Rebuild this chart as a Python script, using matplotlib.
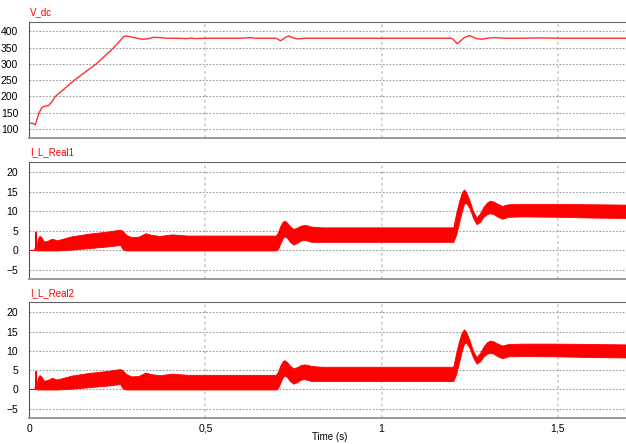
import numpy as np
import matplotlib
matplotlib.use("Agg")
import matplotlib.pyplot as plt
from matplotlib.ticker import FuncFormatter

plt.rcParams['font.family'] = ['Liberation Sans', 'DejaVu Sans']

# V_dc (V) vs time (s)
vdc_t = [0, 0.01, 0.017, 0.028, 0.036, 0.045, 0.055, 0.065, 0.074, 0.128, 0.19, 0.24,
         0.268, 0.275, 0.29, 0.306, 0.32, 0.335, 0.353, 0.37, 0.39, 0.42, 0.45, 0.46, 0.47,
         0.5, 0.6, 0.63, 0.64, 0.7, 0.705, 0.713, 0.725, 0.736, 0.75, 0.76, 0.78, 0.80,
         0.9, 1.0, 1.1, 1.2, 1.205, 1.215, 1.235, 1.25, 1.27, 1.286, 1.30, 1.32, 1.35,
         1.4, 1.45, 1.5, 1.6, 1.7]
vdc_v = [118, 117, 113, 150, 166, 170, 172, 185, 200, 250, 300, 350,
         384, 386, 383, 379, 376, 377, 382, 381, 379, 379, 378, 380, 378,
         379, 379, 381, 379, 379, 377, 371, 380, 386, 380, 377, 379, 379,
         379, 379, 379, 379, 374, 362, 381, 387, 378, 376, 379, 381, 379,
         379, 380, 379, 379, 379]

# inductor current ripple envelopes (A), phase 1
i1_t = [0.020, 0.024, 0.029, 0.035, 0.041, 0.05, 0.064, 0.079, 0.12, 0.17, 0.22, 0.258,
        0.265, 0.275, 0.29, 0.31, 0.33, 0.345, 0.37, 0.405, 0.45, 0.55, 0.65,
        0.70, 0.706, 0.713, 0.72, 0.725, 0.732, 0.74, 0.75, 0.76, 0.77, 0.78, 0.79,
        0.80, 0.83, 0.90, 1.0, 1.1, 1.2,
        1.204, 1.212, 1.22, 1.228, 1.234, 1.24, 1.25, 1.26, 1.27, 1.28, 1.29, 1.30,
        1.308, 1.318, 1.33, 1.343, 1.36, 1.4, 1.5, 1.6, 1.7]
i1_hi = [0.5, 3.0, 3.75, 3.3, 2.3, 2.4, 3.0, 2.6, 3.6, 4.3, 4.8, 5.3,
         5.0, 4.0, 3.4, 3.5, 4.4, 4.0, 3.7, 4.1, 3.8, 3.8, 3.8,
         3.8, 4.6, 6.3, 7.4, 7.6, 7.1, 6.2, 5.5, 5.8, 6.3, 6.5, 6.4,
         6.1, 5.9, 5.9, 5.9, 5.9, 5.9,
         6.0, 9.5, 12.5, 14.8, 15.6, 15.0, 12.8, 10.0, 8.4, 9.5, 11.2, 12.3,
         12.7, 12.5, 11.9, 11.4, 11.8, 11.9, 11.9, 11.8, 11.7]
i1_lo = [0, 0, 0, 0, 0, 0, 0, 0, 0.2, 0.6, 1.0, 1.4,
         0.3, 0, 0, 0, 0, 0, 0, 0, 0, 0, 0,
         0, 0.3, 1.8, 3.2, 3.6, 3.2, 2.2, 1.5, 1.9, 2.5, 2.7, 2.5,
         2.2, 2.2, 2.2, 2.2, 2.2, 2.2,
         2.2, 4.0, 7.0, 10.0, 11.8, 12.2, 10.8, 8.3, 6.7, 7.3, 8.6, 9.3,
         9.5, 9.3, 8.6, 8.1, 8.6, 8.7, 8.6, 8.4, 8.3]

# phase 2 looks the same as phase 1
i2_t = list(i1_t)
i2_hi = list(i1_hi)
i2_lo = list(i1_lo)

# start-up spike before the band
spike_t = [0, 0.016, 0.017, 0.018, 0.019, 0.020]
spike_v = [0, 0, 0.6, 0, 4.7, 0.5]

xticks = [0, 0.5, 1, 1.5]

fig = plt.figure(figsize=(6.26, 4.44), dpi=100)
W, H = 626, 444
left = 29.3 / W
xmax = (626 - 29.3) / 352.2

def box(top, bottom):
    return [left, 1 - bottom / H, 1 - left, (bottom - top) / H]

ax1 = fig.add_axes(box(22, 138))
ax2 = fig.add_axes(box(162, 279))
ax3 = fig.add_axes(box(302, 418))

ax1.plot(vdc_t, vdc_v, color='#ff3030', lw=1.0)
ax2.plot(spike_t, spike_v, color='red', lw=0.8)
ax2.fill_between(i1_t, i1_lo, i1_hi, color='red', lw=0.6, edgecolor='red')
ax3.plot(spike_t, spike_v, color='red', lw=0.8)
ax3.fill_between(i2_t, i2_lo, i2_hi, color='red', lw=0.6, edgecolor='red')

ax1.set_ylim(72, 429)
ax1.set_yticks([100, 150, 200, 250, 300, 350, 400])
ax2.set_ylim(-7.3, 22.6)
ax3.set_ylim(-7.4, 22.7)
for ax in (ax2, ax3):
    ax.set_yticks([-5, 0, 5, 10, 15, 20])

fmt = FuncFormatter(lambda v, p: ('%g' % v).replace('.', ','))
for ax in (ax1, ax2, ax3):
    ax.set_xlim(0, xmax)
    ax.set_xticks(xticks)
    ax.xaxis.set_major_formatter(fmt)
    ax.tick_params(length=0, labelsize=7.5)
    ax.tick_params(axis='y', pad=8)
    ax.tick_params(axis='x', pad=4)
    ax.yaxis.grid(True, ls=(0, (1.5, 1.5)), color='#999999', lw=0.8)
    ax.xaxis.grid(True, ls=(0, (1.5, 1.5)), color='#d4d4d4', lw=1.4)
    ax.set_axisbelow(True)
    ax.spines['right'].set_visible(False)
    ax.spines['top'].set_color('#666666')
    ax.spines['left'].set_color('#555555')
    ax.spines['bottom'].set_color('#999999')
    ax.spines['bottom'].set_linewidth(1.4)
for ax in (ax1, ax2):
    ax.tick_params(labelbottom=False)

fig.text(330 / W, 1 - 437 / H, 'Time (s)', fontsize=7, ha='center', va='center')

for name, y in (('V_dc', 12), ('I_L_Real1', 152), ('I_L_Real2', 293)):
    fig.text(30 / W, 1 - y / H, name, color='red', fontsize=7, va='center', ha='left')

fig.savefig('out.png', dpi=100)
